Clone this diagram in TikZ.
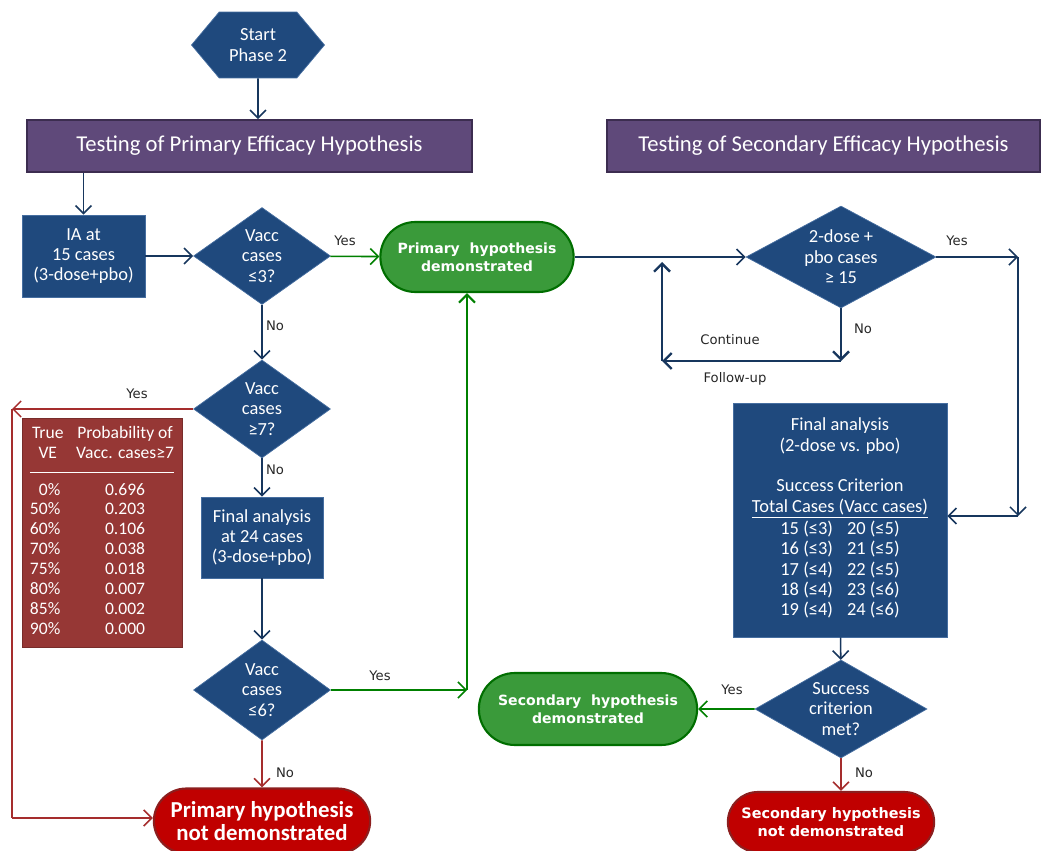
\documentclass[tikz,border=0pt]{standalone}
\usepackage{fontspec}
\setmainfont{Carlito}
\newfontfamily\dejavu{DejaVu Sans}
\usetikzlibrary{arrows.meta, shapes.geometric, shapes.misc, shapes.symbols}

\definecolor{boxblue}{RGB}{31,73,125}
\definecolor{edgeblue}{RGB}{70,110,160}
\definecolor{arrowblue}{RGB}{23,54,93}
\definecolor{headpurple}{RGB}{95,73,122}
\definecolor{headedge}{RGB}{60,45,80}
\definecolor{okgreen}{RGB}{58,154,58}
\definecolor{okedge}{RGB}{0,110,0}
\definecolor{arrowgreen}{RGB}{0,128,0}
\definecolor{badred}{RGB}{192,0,0}
\definecolor{badedge}{RGB}{140,30,30}
\definecolor{tablered}{RGB}{150,55,53}
\definecolor{arrowred}{RGB}{165,45,45}

\tikzset{
  >={Straight Barb[length=1.6mm,width=3.2mm]},
  blockbox/.style={rectangle, fill=boxblue, draw=edgeblue, text=white, align=center,
    inner sep=2pt, font=\fontsize{10.5}{11.6}\selectfont},
  decision/.style={diamond, fill=boxblue, draw=edgeblue, text=white, align=center,
    inner sep=0pt, aspect=1.4, font=\fontsize{10.5}{11.6}\selectfont},
  header/.style={rectangle, fill=headpurple, draw=headedge, line width=1pt, text=white,
    minimum height=1.04cm, font=\fontsize{12.9}{15}\selectfont},
  goodend/.style={rounded rectangle, fill=okgreen, draw=okedge, line width=1.2pt, text=white,
    align=center, font=\dejavu\bfseries\fontsize{8}{10.5}\selectfont},
  badend/.style={rounded rectangle, fill=badred, draw=badedge, line width=1.2pt, text=white,
    align=center},
  flow/.style={->, draw=arrowblue, line width=0.9pt},
  loopflow/.style={->, draw=arrowblue, line width=1.4pt},
  yesflow/.style={->, draw=arrowgreen, line width=0.9pt},
  noflow/.style={->, draw=arrowred, line width=0.9pt},
  tag/.style={font=\dejavu\fontsize{7.5}{9}\selectfont, text=black!85}
}

\begin{document}
\begin{tikzpicture}[x=0.02cm, y=-0.02cm]
\useasboundingbox (0,0) rectangle (1042,851);

% Start and headers
\node[signal, signal to=east and west, signal pointer angle=100, fill=boxblue, draw=edgeblue,
  text=white, align=center, minimum width=2.66cm, minimum height=1.32cm,
  font=\fontsize{10.5}{11.6}\selectfont] (start) at (258,45) {Start\\Phase 2};
\node[header, minimum width=8.9cm] (primhead) at (249.5,146) {Testing of Primary Efficacy Hypothesis};
\node[header, minimum width=8.66cm] (sechead) at (823.5,146) {Testing of Secondary Efficacy Hypothesis};

% Primary branch
\node[blockbox, minimum width=2.46cm, minimum height=1.64cm] (ia) at (83.5,256) {IA at\\15 cases\\(3-dose+pbo)};
\node[decision, minimum width=2.74cm, minimum height=1.94cm] (dlow3) at (262,256) {Vacc\\cases\\≤3?};
\node[decision, minimum width=2.74cm, minimum height=1.96cm] (dhigh7) at (262,409) {Vacc\\cases\\≥7?};
\node[blockbox, minimum width=2.44cm, minimum height=1.62cm] (final24) at (262,537.5) {Final analysis\\at 24 cases\\(3-dose+pbo)};
\node[decision, minimum width=2.74cm, minimum height=2cm] (dlow6) at (262,690) {Vacc\\cases\\≤6?};
\node[goodend, minimum width=4.1cm, minimum height=1.4cm] (primok) at (477,257) {Primary\ \ hypothesis\\demonstrated};
\node[badend, minimum width=4.56cm, minimum height=1.3cm, font=\bfseries\fontsize{13}{13.5}\selectfont] (primfail) at (262,821) {Primary hypothesis\\not demonstrated};

% VE table
\node[rectangle, fill=tablered, draw=tablered!80!black, text=white, minimum width=3.2cm,
  minimum height=4.58cm, inner sep=0pt, font=\fontsize{10}{11.3}\selectfont] (vetable) at (102,532.5) {%
  \begin{tabular}{@{}r@{\hspace{9pt}}c@{}}
  \multicolumn{1}{@{}c}{True} & Probability of\\
  \multicolumn{1}{@{}c}{VE} & Vacc. cases≥7\\[4pt]
  \hline
  \noalign{\vskip 5pt}
  0\% & 0.696\\
  50\% & 0.203\\
  60\% & 0.106\\
  70\% & 0.038\\
  75\% & 0.018\\
  80\% & 0.007\\
  85\% & 0.002\\
  90\% & 0.000
  \end{tabular}};

% Secondary branch
\node[decision, aspect=1.8, minimum width=3.8cm, minimum height=2.04cm] (dsec) at (841,257) {2-dose +\\pbo cases\\≥ 15};
\node[blockbox, minimum width=4.28cm, minimum height=4.68cm] (finalsec) at (840,520) {Final analysis\\(2-dose vs. pbo)\\[11.6pt]
  Success Criterion\\\underline{Total Cases (Vacc cases)}\\
  \begin{tabular}{@{}l@{\hspace{8pt}}l@{}}
  15 (≤3) & 20 (≤5)\\
  16 (≤3) & 21 (≤5)\\
  17 (≤4) & 22 (≤5)\\
  18 (≤4) & 23 (≤6)\\
  19 (≤4) & 24 (≤6)
  \end{tabular}};
\node[decision, aspect=1.75, minimum width=3.44cm, minimum height=1.96cm] (dmet) at (841,709) {Success\\criterion\\met?};
\node[goodend, minimum width=4.6cm, minimum height=1.44cm] (secok) at (588,709) {Secondary\ \ hypothesis\\demonstrated};
\node[badend, minimum width=4.36cm, minimum height=1.2cm, font=\dejavu\bfseries\fontsize{8.2}{10.5}\selectfont] (secfail) at (831,822) {Secondary hypothesis\\not demonstrated};

% Corners
\coordinate (ycorner) at (12,409);
\coordinate (bcorner) at (12,818);
\coordinate (gcorner) at (467,690);
\coordinate (loopa) at (841,361);
\coordinate (loopb) at (662,361);
\coordinate (loopc) at (662,262);
\coordinate (ra) at (1018,257);
\coordinate (rb) at (1018,516);

% Arrows
\draw[flow] (start) -- (start |- primhead.north);
\draw[flow] (primhead.south -| ia.north) -- (ia.north);
\draw[flow] (ia) -- (dlow3);
\draw[yesflow] (dlow3) -- (primok);
\draw[flow] (dlow3) -- (dhigh7);
\draw[noflow] (dhigh7.west) -- (ycorner);
\draw[draw=arrowred, line width=0.9pt] (ycorner) -- (bcorner);
\draw[noflow] (bcorner) -- (bcorner -| primfail.west);
\draw[flow] (dhigh7) -- (final24);
\draw[flow] (final24) -- (dlow6);
\draw[noflow] (dlow6) -- (primfail);
\draw[yesflow] (dlow6.east) -- (gcorner);
\draw[yesflow, line width=1.2pt] (gcorner) -- (gcorner |- primok.south);
\draw[flow] (primok.east) -- (dsec.west);
\draw[loopflow] (dsec.south) -- (loopa);
\draw[loopflow] (loopa) -- (loopb);
\draw[loopflow] (loopb) -- (loopc);
\draw[flow] (dsec.east) -- (ra);
\draw[flow] (ra) -- (rb);
\draw[flow] (rb) -- (rb -| finalsec.east);
\draw[flow] (finalsec) -- (dmet);
\draw[yesflow] (dmet) -- (secok);
\draw[noflow] (dmet.south) -- (dmet.south |- secfail.north);

% Labels
\node[tag] (l1) at (345,241) {Yes};
\node[tag] (l2) at (275,326) {No};
\node[tag] (l3) at (137,394) {Yes};
\node[tag] (l4) at (275,470) {No};
\node[tag] (l5) at (380,676) {Yes};
\node[tag] (l6) at (285,773) {No};
\node[tag] (l7) at (957,241) {Yes};
\node[tag] (l8) at (863,329) {No};
\node[tag] (l9) at (730,340) {Continue};
\node[tag] (l10) at (735,379) {Follow-up};
\node[tag] (l11) at (732,690) {Yes};
\node[tag] (l12) at (864,773) {No};

\end{tikzpicture}
\end{document}
